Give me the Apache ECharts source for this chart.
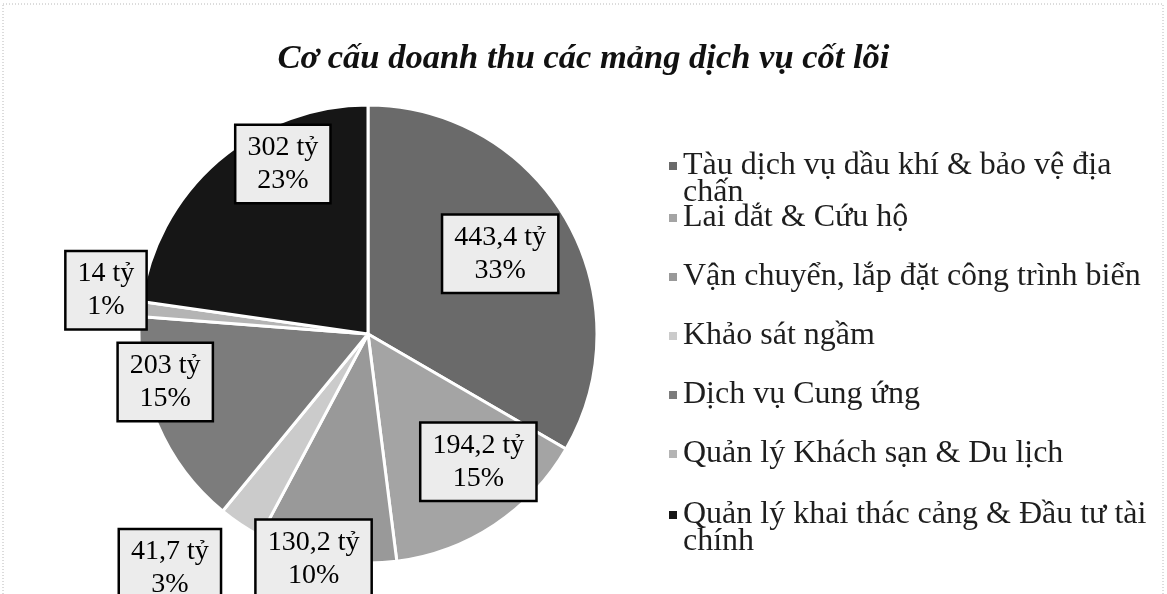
<!DOCTYPE html>
<html>
<head>
<meta charset="utf-8">
<script src="https://cdn.jsdelivr.net/npm/echarts@6/dist/echarts.min.js"></script>
<style>
  html, body { margin: 0; padding: 0; background: #fff; }
  #chart { width: 1167px; height: 594px; }
</style>
</head>
<body>
<div id="chart"></div>
<script>
const titleText = "Cơ cấu doanh thu các mảng dịch vụ cốt lõi";
const segments = [
  "Tàu dịch vụ dầu khí & bảo vệ địa chấn",
  "Lai dắt & Cứu hộ",
  "Vận chuyển, lắp đặt công trình biển",
  "Khảo sát ngầm",
  "Dịch vụ Cung ứng",
  "Quản lý Khách sạn & Du lịch",
  "Quản lý khai thác cảng & Đầu tư tài chính",
];
const revenue = [443.4, 194.2, 130.2, 41.7, 203, 14, 302];
const unit = "tỷ";

// grey shades of the scanned print
const shades = ["#6a6a6a", "#a4a4a4", "#999999", "#cbcbcb", "#7c7c7c", "#b4b4b4", "#161616"];

// where each value box sits: fraction of radius along the slice, plus an angle nudge (deg)
const labelSpots = [[0.675, -1.3], [0.737, -7.3], [1.01, 3.2], [1.34, 6.5], [0.91, 9.8], [1.16, 3.2], [0.83, 14.3]];

const cx = 368, cy = 334, R = 229;
const total = revenue.reduce((a, b) => a + b, 0);
let acc = 0;
const midAngles = revenue.map((v) => {
  const mid = (acc + v / 2) / total * 360;
  acc += v;
  return mid;
});

const serif = "'Liberation Serif', 'Times New Roman', serif";
const legendFont = 32;
const legendWrap = 470;

// wrap legend names like the office legend does; the marker stays on the first line
const ctx = document.createElement("canvas").getContext("2d");
ctx.font = legendFont + "px " + serif;
function wrapName(name) {
  const words = name.split(" ");
  const lines = [];
  let cur = "";
  words.forEach((w) => {
    const next = cur ? cur + " " + w : w;
    if (cur && ctx.measureText(next).width > legendWrap) {
      lines.push(cur);
      cur = w;
    } else {
      cur = next;
    }
  });
  lines.push(cur);
  const pad = new Array(lines.length - 1).fill("");
  return pad.concat(lines).join("\n");
}

const legendText = { fontFamily: serif, fontSize: legendFont, lineHeight: 27, color: "#1e1e1e" };
function legendPart(top, names) {
  return {
    orient: "vertical",
    left: 662,
    top,
    data: names,
    icon: "rect",
    itemWidth: 10,
    itemHeight: 10,
    itemGap: 27,
    formatter: wrapName,
    textStyle: legendText,
  };
}

const chart = echarts.init(document.getElementById("chart"));

chart.setOption({
  backgroundColor: "#fff",
  animation: false,
  title: {
    text: titleText,
    left: "center",
    top: 37,
    textStyle: { fontFamily: serif, fontSize: 34.5, fontWeight: "bold", fontStyle: "italic", color: "#111" },
  },
  graphic: [{
    type: "rect",
    silent: true,
    shape: { x: 3, y: 4, width: 1160, height: 620 },
    style: { fill: null, stroke: "#b8b8b8", lineWidth: 1, lineDash: [1, 2] },
  }],
  legend: [
    legendPart(118, segments.slice(0, 1)),
    legendPart(197, segments.slice(1, 6)),
    legendPart(467, segments.slice(6)),
  ],
  series: [{
    type: "pie",
    center: [cx, cy],
    radius: R,
    startAngle: 90,
    clockwise: true,
    avoidLabelOverlap: false,
    itemStyle: { borderColor: "#fff", borderWidth: 3 },
    label: {
      show: true,
      position: "inside",
      fontFamily: serif,
      fontSize: 28,
      lineHeight: 33,
      color: "#000",
      backgroundColor: "#ececec",
      borderColor: "#000",
      borderWidth: 2.5,
      padding: [5, 11],
      formatter: (p) => String(p.value).replace(".", ",") + " " + unit + "\n" + Math.round(p.percent) + "%",
    },
    labelLine: { show: false },
    labelLayout: (p) => {
      const [f, d] = labelSpots[p.dataIndex];
      const a = (midAngles[p.dataIndex] + d) * Math.PI / 180;
      return {
        x: cx + f * R * Math.sin(a),
        y: cy - f * R * Math.cos(a),
        align: "center",
        verticalAlign: "middle",
      };
    },
    emphasis: { disabled: true },
    data: segments.map((name, i) => ({ name, value: revenue[i], itemStyle: { color: shades[i] } })),
  }],
});
</script>
</body>
</html>
